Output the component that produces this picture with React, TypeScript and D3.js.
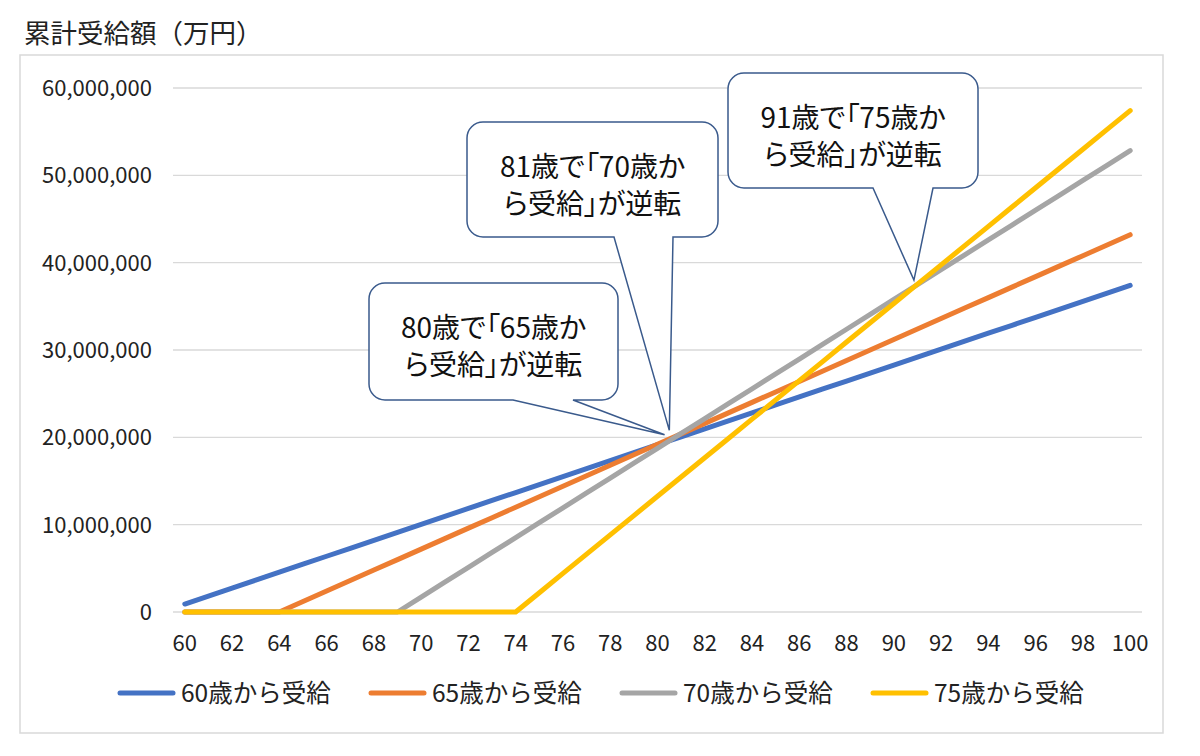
import React from 'react'
import * as d3 from 'd3'

const ages = [
  60, 61, 62, 63, 64, 65, 66, 67, 68, 69, 70, 71, 72, 73, 74, 75, 76, 77, 78, 79, 80,
  81, 82, 83, 84, 85, 86, 87, 88, 89, 90, 91, 92, 93, 94, 95, 96, 97, 98, 99, 100,
]

const from60 = [
  912000, 1824000, 2736000, 3648000, 4560000, 5472000, 6384000, 7296000, 8208000, 9120000,
  10032000, 10944000, 11856000, 12768000, 13680000, 14592000, 15504000, 16416000, 17328000, 18240000,
  19152000, 20064000, 20976000, 21888000, 22800000, 23712000, 24624000, 25536000, 26448000, 27360000,
  28272000, 29184000, 30096000, 31008000, 31920000, 32832000, 33744000, 34656000, 35568000, 36480000,
  37392000,
]

const from65 = [
  0, 0, 0, 0, 0, 1200000, 2400000, 3600000, 4800000, 6000000,
  7200000, 8400000, 9600000, 10800000, 12000000, 13200000, 14400000, 15600000, 16800000, 18000000,
  19200000, 20400000, 21600000, 22800000, 24000000, 25200000, 26400000, 27600000, 28800000, 30000000,
  31200000, 32400000, 33600000, 34800000, 36000000, 37200000, 38400000, 39600000, 40800000, 42000000,
  43200000,
]

const from70 = [
  0, 0, 0, 0, 0, 0, 0, 0, 0, 0,
  1704000, 3408000, 5112000, 6816000, 8520000, 10224000, 11928000, 13632000, 15336000, 17040000,
  18744000, 20448000, 22152000, 23856000, 25560000, 27264000, 28968000, 30672000, 32376000, 34080000,
  35784000, 37488000, 39192000, 40896000, 42600000, 44304000, 46008000, 47712000, 49416000, 51120000,
  52824000,
]

const from75 = [
  0, 0, 0, 0, 0, 0, 0, 0, 0, 0,
  0, 0, 0, 0, 0, 2208000, 4416000, 6624000, 8832000, 11040000,
  13248000, 15456000, 17664000, 19872000, 22080000, 24288000, 26496000, 28704000, 30912000, 33120000,
  35328000, 37536000, 39744000, 41952000, 44160000, 46368000, 48576000, 50784000, 52992000, 55200000,
  57408000,
]

const seriesNames = ['60歳から受給', '65歳から受給', '70歳から受給', '75歳から受給']
const seriesValues = [from60, from65, from70, from75]
const seriesColors = ['#4472C4', '#ED7D31', '#A5A5A5', '#FFC000']

const yTicks = [0, 10000000, 20000000, 30000000, 40000000, 50000000, 60000000]
const xTickLabels = [60, 62, 64, 66, 68, 70, 72, 74, 76, 78, 80, 82, 84, 86, 88, 90, 92, 94, 96, 98, 100]

const callouts = [
  { lines: ['80歳で「65歳か', 'ら受給」が逆転'], age: 80.3, value: 20300000, box: [369, 283, 618, 400], tail: [513, 573] },
  { lines: ['81歳で「70歳か', 'ら受給」が逆転'], age: 80.5, value: 20800000, box: [467, 122, 718, 237], tail: [614, 673] },
  { lines: ['91歳で「75歳か', 'ら受給」が逆転'], age: 90.85, value: 38000000, box: [728, 73, 978, 188], tail: [873, 933] },
]

const FONT = "'Noto Sans CJK JP', sans-serif"

function calloutPath(box: number[], tail: number[], tip: [number, number], r = 16) {
  const [x0, y0, x1, y1] = box
  const p = d3.path()
  p.moveTo(x0 + r, y0)
  p.lineTo(x1 - r, y0)
  p.arcTo(x1, y0, x1, y0 + r, r)
  p.lineTo(x1, y1 - r)
  p.arcTo(x1, y1, x1 - r, y1, r)
  p.lineTo(tail[1], y1)
  p.lineTo(tip[0], tip[1])
  p.lineTo(tail[0], y1)
  p.lineTo(x0 + r, y1)
  p.arcTo(x0, y1, x0, y1 - r, r)
  p.lineTo(x0, y0 + r)
  p.arcTo(x0, y0, x0 + r, y0, r)
  p.closePath()
  return p.toString()
}

export default function App() {
  const width = 1200
  const height = 756
  const plotLeft = 173
  const plotRight = 1142

  const x = d3.scalePoint<number>().domain(ages).range([plotLeft, plotRight]).padding(0.5)
  const step = x.step()
  const xAge = (a: number) => (x(60) as number) + (a - 60) * step
  const y = d3.scaleLinear().domain([0, 60000000]).range([612, 88])
  const fmt = d3.format(',')

  const line = d3
    .line<number>()
    .x((_, i) => x(ages[i]) as number)
    .y((d) => y(d))

  return (
    <svg
      width={width}
      height={height}
      style={{ position: 'absolute', left: 0, top: 0, background: '#fff' }}
      fontFamily={FONT}
    >
      <rect x={0} y={0} width={width} height={height} fill="#fff" />
      <text x={24} y={43} fontSize={26.5} fill="#222">
        累計受給額（万円）
      </text>
      <rect x={20} y={55} width={1143} height={678} fill="#fff" stroke="#D9D9D9" strokeWidth={1.5} />

      {/* grid */}
      {yTicks.map((t) => (
        <g key={t}>
          <line x1={plotLeft} x2={plotRight} y1={y(t)} y2={y(t)} stroke="#D9D9D9" strokeWidth={1.3} />
          <text x={152} y={y(t)} dy="0.36em" textAnchor="end" fontSize={22} fill="#222">
            {fmt(t)}
          </text>
        </g>
      ))}

      {xTickLabels.map((a) => (
        <text key={a} x={x(a)} y={651} textAnchor="middle" fontSize={22} fill="#222">
          {a}
        </text>
      ))}

      {/* series */}
      {seriesValues.map((vals, i) => (
        <path
          key={seriesNames[i]}
          d={line(vals) as string}
          fill="none"
          stroke={seriesColors[i]}
          strokeWidth={5}
          strokeLinecap="round"
          strokeLinejoin="round"
        />
      ))}

      {/* callouts */}
      {callouts.map((c) => {
        const tip: [number, number] = [xAge(c.age), y(c.value)]
        const cx = (c.box[0] + c.box[2]) / 2
        return (
          <g key={c.lines[0]}>
            <path d={calloutPath(c.box, c.tail, tip)} fill="#fff" stroke="#3A5A8C" strokeWidth={1.5} />
            {c.lines.map((l, j) => (
              <text
                key={l}
                x={cx}
                y={c.box[1] + 55 + j * 37}
                textAnchor="middle"
                fontSize={28}
                fill="#111"
                style={{ fontFeatureSettings: '"palt"' }}
              >
                {l}
              </text>
            ))}
          </g>
        )
      })}

      {/* legend */}
      {seriesNames.map((n, i) => {
        const lx = 120 + i * 251
        return (
          <g key={n}>
            <line x1={lx} x2={lx + 53} y1={693} y2={693} stroke={seriesColors[i]} strokeWidth={5} strokeLinecap="round" />
            <text x={lx + 61} y={693} dy="0.36em" fontSize={24.5} fill="#222">
              {n}
            </text>
          </g>
        )
      })}
    </svg>
  )
}
